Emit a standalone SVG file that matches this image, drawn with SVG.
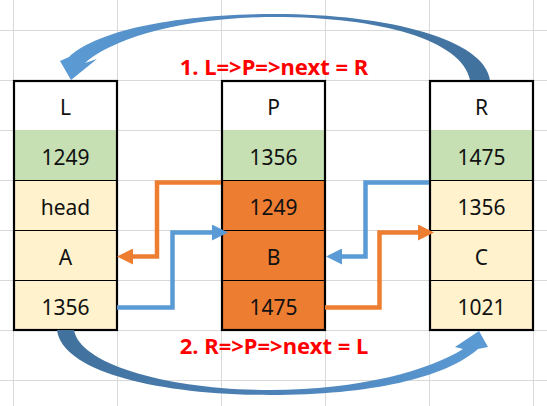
<svg xmlns="http://www.w3.org/2000/svg" width="547" height="406" viewBox="0 0 547 406">
<style>
.grid line{stroke:#d9d9d9;stroke-width:1}
.box{fill:none;stroke:#000;stroke-width:2.2}
.div{stroke:#000;stroke-width:1}
.hdr{fill:#fff}
.grn{fill:#c6e0b4}
.yel{fill:#fff2cc}
.org{fill:#ed7d31}
.t{font-family:"Noto Sans","Liberation Sans",sans-serif;font-size:21px;fill:#111;text-anchor:middle}
.lbl{font-family:"Noto Sans","Liberation Sans",sans-serif;font-size:22px;font-weight:bold;fill:#ff0000;text-anchor:middle}
.co{fill:none;stroke:#ed7d31;stroke-width:4.5}
.cb{fill:none;stroke:#5b9bd5;stroke-width:4.5}
</style>
<defs>
<marker id="ho" viewBox="0 0 16 16" refX="8" refY="8" markerWidth="16" markerHeight="16" markerUnits="userSpaceOnUse" orient="auto"><path d="M0,0 L16,8 L0,16 Z" fill="#ed7d31"/></marker>
<marker id="hb" viewBox="0 0 16 16" refX="8" refY="8" markerWidth="16" markerHeight="16" markerUnits="userSpaceOnUse" orient="auto"><path d="M0,0 L16,8 L0,16 Z" fill="#5b9bd5"/></marker>
<linearGradient id="gTop" gradientUnits="userSpaceOnUse" x1="60" y1="0" x2="490" y2="0"><stop offset="0" stop-color="#5b9bd5"/><stop offset="0.5" stop-color="#4d82b8"/><stop offset="1" stop-color="#41719c"/></linearGradient>
<linearGradient id="gBot" gradientUnits="userSpaceOnUse" x1="57" y1="0" x2="490" y2="0"><stop offset="0" stop-color="#41719c"/><stop offset="0.5" stop-color="#4d82b8"/><stop offset="1" stop-color="#5b9bd5"/></linearGradient>
</defs>
<rect width="547" height="406" fill="#fff"/>
<g class="grid">
<line x1="13.5" y1="0" x2="13.5" y2="406"/><line x1="117.5" y1="0" x2="117.5" y2="406"/><line x1="221.5" y1="0" x2="221.5" y2="406"/><line x1="325.5" y1="0" x2="325.5" y2="406"/><line x1="429.5" y1="0" x2="429.5" y2="406"/><line x1="533.5" y1="0" x2="533.5" y2="406"/>
<line x1="0" y1="30.5" x2="547" y2="30.5"/><line x1="0" y1="80.5" x2="547" y2="80.5"/><line x1="0" y1="130.5" x2="547" y2="130.5"/><line x1="0" y1="180.5" x2="547" y2="180.5"/><line x1="0" y1="230.5" x2="547" y2="230.5"/><line x1="0" y1="280.5" x2="547" y2="280.5"/><line x1="0" y1="330.5" x2="547" y2="330.5"/><line x1="0" y1="380.5" x2="547" y2="380.5"/>
</g>
<g id="node-L">
<rect class="hdr" x="13" y="80" width="104" height="50"/><rect class="grn" x="13" y="130" width="104" height="50"/><rect class="yel" x="13" y="180" width="104" height="150"/>
<line class="div" x1="13" y1="180.5" x2="117" y2="180.5"/><line class="div" x1="13" y1="230.5" x2="117" y2="230.5"/><line class="div" x1="13" y1="280.5" x2="117" y2="280.5"/>
<rect class="box" x="14" y="81" width="103" height="249"/>
<text class="t" x="65.5" y="115">L</text><text class="t" x="65.5" y="165">1249</text><text class="t" x="65.5" y="215">head</text><text class="t" x="65.5" y="265">A</text><text class="t" x="65.5" y="315">1356</text>
</g>
<g id="node-P">
<rect class="hdr" x="221" y="80" width="104" height="50"/><rect class="grn" x="221" y="130" width="104" height="50"/><rect class="org" x="221" y="180" width="104" height="150"/>
<line class="div" x1="221" y1="180.5" x2="325" y2="180.5"/><line class="div" x1="221" y1="230.5" x2="325" y2="230.5"/><line class="div" x1="221" y1="280.5" x2="325" y2="280.5"/>
<rect class="box" x="222" y="81" width="103" height="249"/>
<text class="t" x="273.5" y="115">P</text><text class="t" x="273.5" y="165">1356</text><text class="t" x="273.5" y="215">1249</text><text class="t" x="273.5" y="265">B</text><text class="t" x="273.5" y="315">1475</text>
</g>
<g id="node-R">
<rect class="hdr" x="429" y="80" width="104" height="50"/><rect class="grn" x="429" y="130" width="104" height="50"/><rect class="yel" x="429" y="180" width="104" height="150"/>
<line class="div" x1="429" y1="180.5" x2="533" y2="180.5"/><line class="div" x1="429" y1="230.5" x2="533" y2="230.5"/><line class="div" x1="429" y1="280.5" x2="533" y2="280.5"/>
<rect class="box" x="430" y="81" width="103" height="249"/>
<text class="t" x="481.5" y="115">R</text><text class="t" x="481.5" y="165">1475</text><text class="t" x="481.5" y="215">1356</text><text class="t" x="481.5" y="265">C</text><text class="t" x="481.5" y="315">1021</text>
</g>
<g id="connectors">
<path class="co" d="M221,182.5 H157 V256.5 H125" marker-end="url(#ho)"/>
<path class="cb" d="M117,307.5 H172.5 V232.5 H220" marker-end="url(#hb)"/>
<path class="cb" d="M429,182.5 H365.5 V256.5 H334" marker-end="url(#hb)"/>
<path class="co" d="M325,307.5 H379.5 V232.5 H426" marker-end="url(#ho)"/>
<path id="curve-top" fill="url(#gTop)" d="M490,80 C485,40 390,14 275,14 C170,14 95,32 69,57 L60,61 L71,80 L97,59 L85,63 C110,40 180,17 275,17 C380,17 462,40 470,80 Z"/>
<path id="curve-bottom" fill="url(#gBot)" d="M57,330 C62,372 160,395 270,395 C370,395 445,378 478,349 L488,347 L479,331 L455,347 L463,349 C430,370 360,390 270,390 C170,390 80,365 74,330 Z"/>
</g>
<text class="lbl" x="274" y="75">1. L=&gt;P=&gt;next = R</text>
<text class="lbl" x="274" y="354">2. R=&gt;P=&gt;next = L</text>
</svg>
